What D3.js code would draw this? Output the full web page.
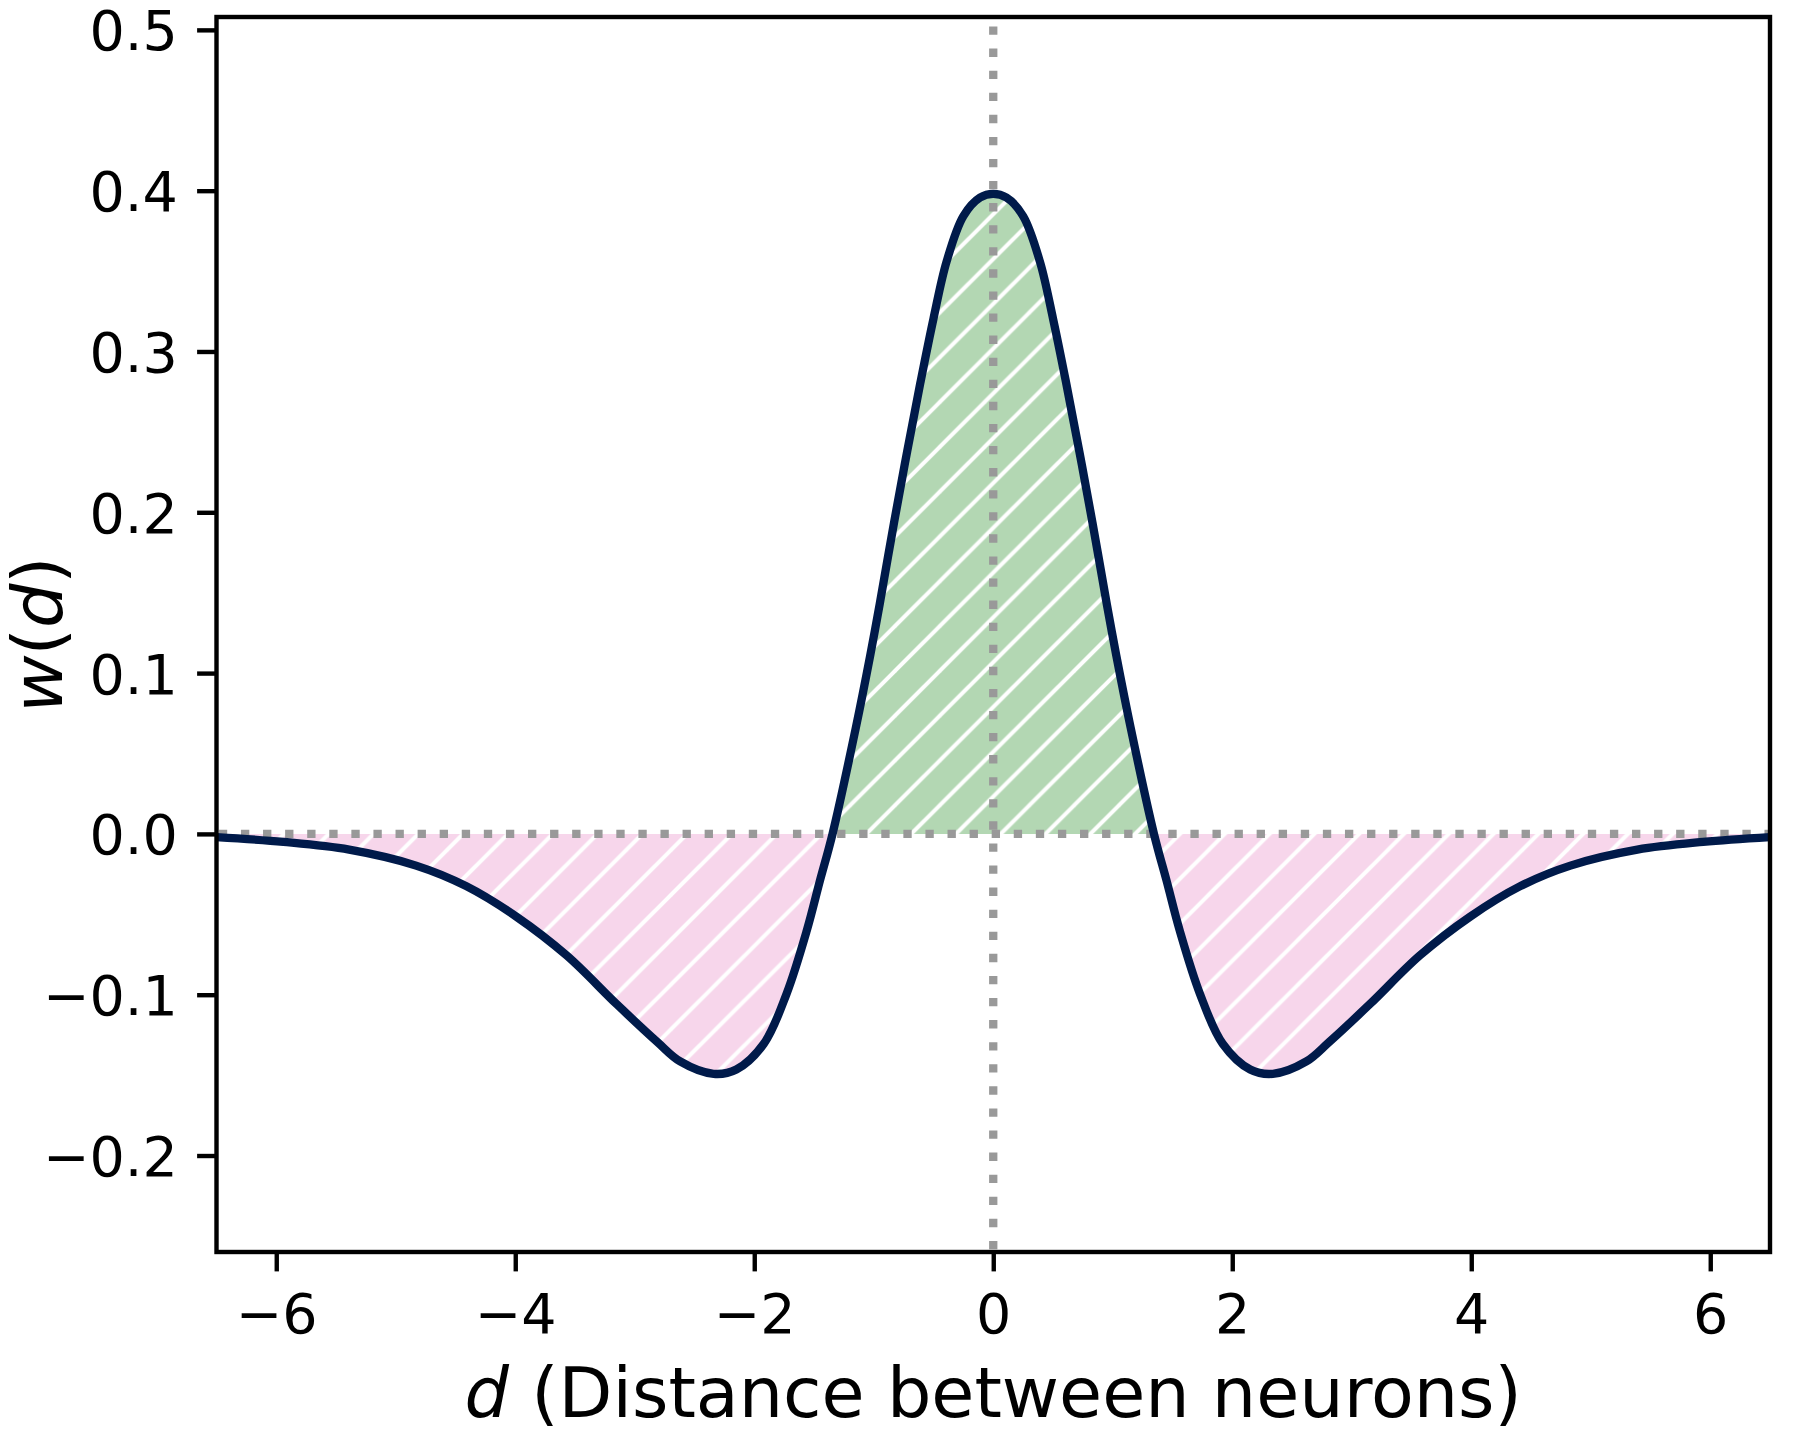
<!DOCTYPE html>
<html>
<head>
<meta charset="utf-8">
<script src="https://cdn.jsdelivr.net/npm/d3@7"></script>
<style>
  body { margin: 0; background: #fff; }
  svg { display: block; font-family: "DejaVu Sans", sans-serif; }
</style>
</head>
<body>
<svg id="chart"></svg>
<script>
// distance between neurons (d) and connection weight w(d)
var distance = [-6.5, -5.94, -5.39, -4.83, -4.41, -3.99, -3.57, -3.15, -2.81, -2.62, -2.34, -2.15,
    -1.92, -1.73, -1.56, -1.45, -1.345, -1.15, -1.03, -0.95, -0.83, -0.72, -0.61, -0.5, -0.39, -0.25, -0.11,
    0,
    0.11, 0.25, 0.39, 0.5, 0.61, 0.72, 0.83, 0.95, 1.03, 1.15, 1.345, 1.45, 1.56, 1.73, 1.92,
    2.15, 2.34, 2.62, 2.81, 3.15, 3.57, 3.99, 4.41, 4.83, 5.39, 5.94, 6.5];
var weight = [-0.002, -0.005, -0.0098, -0.0197, -0.0325, -0.0515, -0.0756, -0.106, -0.1295, -0.1415, -0.1492, -0.1465,
    -0.1305, -0.0995, -0.060, -0.029, 0, 0.066, 0.1108, 0.143, 0.1937, 0.238, 0.2805, 0.3205, 0.356, 0.3842, 0.3957,
    0.398,
    0.3957, 0.3842, 0.356, 0.3205, 0.2805, 0.238, 0.1937, 0.143, 0.1108, 0.066, 0, -0.029, -0.060, -0.0995, -0.1305,
    -0.1465, -0.1492, -0.1415, -0.1295, -0.106, -0.0756, -0.0515, -0.0325, -0.0197, -0.0098, -0.005, -0.002];

var xTicks = [-6, -4, -2, 0, 2, 4, 6];
var yTicks = [-0.2, -0.1, 0.0, 0.1, 0.2, 0.3, 0.4, 0.5];

(function() {

    var W = 1795, H = 1433;
    var pl = 216.5, pr = 1770, pt = 17, pb = 1252;

    var svg = d3.select("#chart").attr("width", W).attr("height", H);

    var x = d3.scaleLinear().domain([-6.5, 6.5]).range([pl, pr]);
    var y = d3.scaleLinear().domain([-0.26, 0.508]).range([pb, pt]);

    var data = distance.map(function(d, i) { return { d: d, w: weight[i] }; });
    var smooth = d3.curveCatmullRom.alpha(0.5);

    // hatch: white "/" lines every ~44.8px
    var P = 44.8, c0 = 42.7;
    var defs = svg.append("defs");
    defs.append("clipPath").attr("id", "plot-clip")
        .append("rect").attr("x", pl).attr("y", pt).attr("width", pr - pl).attr("height", pb - pt);
    defs.append("clipPath").attr("id", "above-zero")
        .append("rect").attr("x", pl).attr("y", pt).attr("width", pr - pl).attr("height", y(0) - pt);
    defs.append("clipPath").attr("id", "below-zero")
        .append("rect").attr("x", pl).attr("y", y(0)).attr("width", pr - pl).attr("height", pb - y(0));

    function hatch(id, fill) {
        var p = defs.append("pattern").attr("id", id)
            .attr("patternUnits", "userSpaceOnUse")
            .attr("width", P).attr("height", P);
        p.append("rect").attr("width", P).attr("height", P).attr("fill", fill);
        [c0 - P, c0, c0 + P].forEach(function(c) {
            p.append("line")
                .attr("x1", -10).attr("y1", c + 10)
                .attr("x2", c + 10).attr("y2", -10)
                .attr("stroke", "#fff").attr("stroke-width", 4);
        });
    }
    hatch("hatch-green", "#b3d7b3");
    hatch("hatch-pink", "#f7d6eb");

    var plot = svg.append("g").attr("clip-path", "url(#plot-clip)");

    var area = d3.area()
        .x(function(p) { return x(p.d); })
        .y0(y(0))
        .y1(function(p) { return y(p.w); })
        .curve(smooth);

    plot.append("g").attr("clip-path", "url(#below-zero)")
        .append("path").datum(data).attr("d", area).attr("fill", "url(#hatch-pink)");
    plot.append("g").attr("clip-path", "url(#above-zero)")
        .append("path").datum(data).attr("d", area).attr("fill", "url(#hatch-green)");

    // dotted reference lines at w = 0 and d = 0
    plot.append("line")
        .attr("x1", pl).attr("x2", pr)
        .attr("y1", y(0)).attr("y2", y(0))
        .attr("stroke", "#999").attr("stroke-width", 8.3)
        .attr("stroke-dasharray", "8.33,13.75").attr("stroke-dashoffset", 19.7);

    plot.append("line")
        .attr("x1", x(0)).attr("x2", x(0))
        .attr("y1", pt).attr("y2", pb)
        .attr("stroke", "#999").attr("stroke-width", 8.3)
        .attr("stroke-dasharray", "8.33,13.75").attr("stroke-dashoffset", 12.6);

    var line = d3.line()
        .x(function(p) { return x(p.d); })
        .y(function(p) { return y(p.w); })
        .curve(smooth);

    plot.append("path").datum(data)
        .attr("d", line)
        .attr("fill", "none")
        .attr("stroke", "#001a4a")
        .attr("stroke-width", 8.3)
        .attr("stroke-linejoin", "round")
        .attr("stroke-linecap", "round");

    // axes
    var xAxis = d3.axisBottom(x).tickValues(xTicks).tickFormat(d3.format("d"))
        .tickSizeInner(19.4).tickSizeOuter(0).tickPadding(19.4);
    var yAxis = d3.axisLeft(y).tickValues(yTicks).tickFormat(d3.format(".1f"))
        .tickSizeInner(19.4).tickSizeOuter(0).tickPadding(19.4);

    var gx = svg.append("g").attr("transform", "translate(0," + pb + ")").call(xAxis);
    var gy = svg.append("g").attr("transform", "translate(" + pl + ",0)").call(yAxis);

    [gx, gy].forEach(function(g) {
        g.select(".domain").remove();
        g.selectAll(".tick line").attr("stroke", "#000").attr("stroke-width", 4.4);
        g.selectAll(".tick text")
            .attr("fill", "#000")
            .style("font-size", "55.5px")
            .style("font-family", "DejaVu Sans");
    });
    gx.selectAll(".tick text").attr("dy", null).attr("y", 81);
    gy.selectAll(".tick text").attr("dy", "0.36em").attr("x", -38.8);

    // frame
    svg.append("rect")
        .attr("x", pl).attr("y", pt)
        .attr("width", pr - pl).attr("height", pb - pt)
        .attr("fill", "none").attr("stroke", "#000").attr("stroke-width", 4.4)
        .attr("stroke-linejoin", "miter");

    // labels
    var xl = svg.append("text")
        .attr("x", (pl + pr) / 2).attr("y", 1417)
        .attr("text-anchor", "middle")
        .style("font-size", "70px");
    xl.append("tspan").style("font-style", "italic").text("d");
    xl.append("tspan").text(" (Distance between neurons)");

    var yl = svg.append("text")
        .attr("transform", "translate(62," + ((pt + pb) / 2) + ") rotate(-90)")
        .attr("text-anchor", "middle")
        .style("font-size", "70px");
    yl.append("tspan").style("font-style", "italic").text("w");
    yl.append("tspan").text("(");
    yl.append("tspan").style("font-style", "italic").text("d");
    yl.append("tspan").text(")");

})();
</script>
</body>
</html>
